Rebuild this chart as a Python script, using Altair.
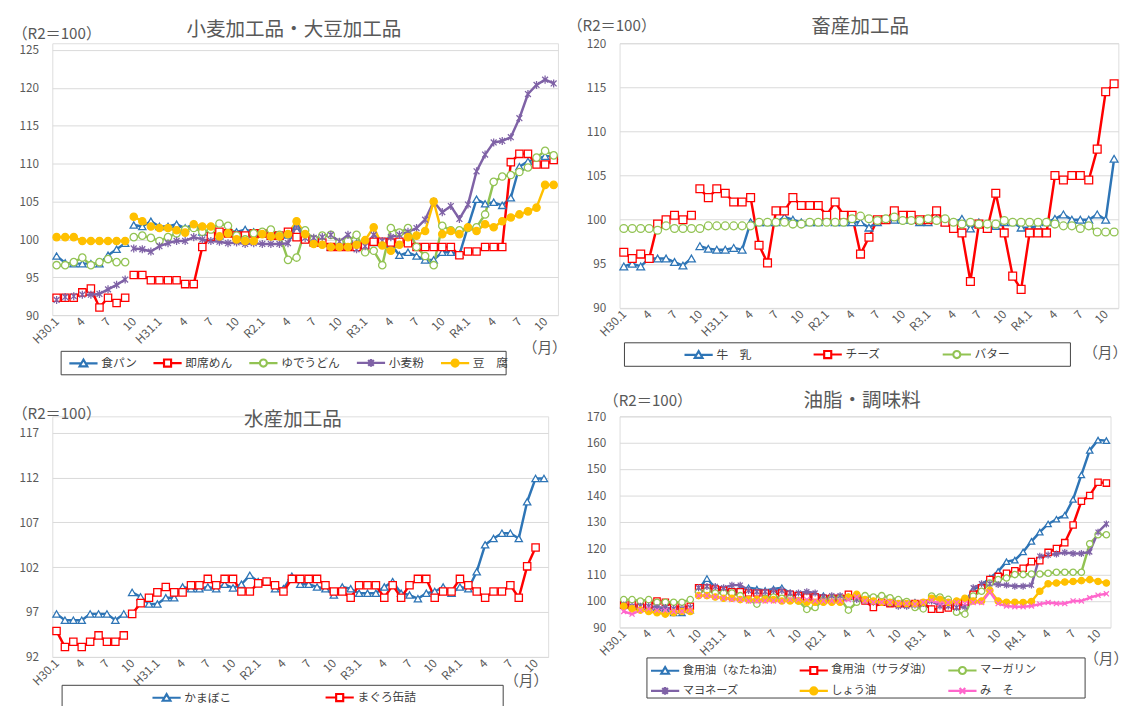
import altair as alt
import pandas as pd

FONT = "Noto Sans CJK JP"
AXIS_C = "#595959"
GRID_C = "#d9d9d9"
FRAME_C = "#404040"

# ---------------- x axis (monthly, H30.1 .. R4.11) ----------------
TICK_POS = list(range(0, 58, 3))
TICK_LABELS = ["H30.1", "4", "7", "10", "H31.1", "4", "7", "10", "R2.1", "4", "7", "10",
               "R3.1", "4", "7", "10", "R4.1", "4", "7", "10"]
BREAK_AFTER = 8  # series break between H30.9 and H30.10

# ---------------- 小麦加工品・大豆加工品 ----------------
P1_NAMES = ["食パン", "即席めん", "ゆでうどん", "小麦粉", "豆　腐"]
P1_SHOKUPAN = [97.8, 96.9, 96.8, 96.8, 96.8, 96.8, 97.9, 98.7, 99.5,
               101.9, 101.7, 102.4, 101.7, 101.7, 102.0, 101.5, 102.0, 101.0, 101.0,
               100.5, 101.2, 101.0, 101.3, 101.0, 100.8, 100.5, 100.5, 100.6, 101.8,
               100.0, 99.7, 99.5, 99.0, 99.0, 99.3, 99.5, 99.3, 99.6, 99.5,
               99.4, 97.9, 98.3, 97.8, 97.3, 97.3, 98.3, 98.3, 98.0, 101.7,
               105.3, 104.7, 104.9, 104.5, 105.5, 109.6, 110.3, 110.6, 111.0, 111.0]
P1_SOKUSEKI = [92.3, 92.3, 92.3, 93.0, 93.5, 91.0, 92.3, 91.6, 92.3,
               95.3, 95.3, 94.6, 94.6, 94.6, 94.6, 94.1, 94.1, 99.0, 100.4,
               101.0, 100.8, 100.5, 100.5, 100.8, 100.8, 100.5, 100.5, 101.0, 100.3,
               100.0, 99.6, 99.6, 99.0, 99.0, 99.0, 99.0, 99.2, 99.7, 99.7,
               99.6, 99.7, 99.5, 99.0, 99.0, 99.0, 99.0, 99.0, 97.9, 98.4,
               98.4, 99.0, 99.0, 99.0, 110.2, 111.3, 111.3, 109.9, 109.9, 110.5]
P1_UDON = [96.6, 96.6, 97.0, 97.6, 96.6, 97.0, 97.4, 97.0, 97.0,
           100.3, 100.5, 100.2, 99.8, 100.3, 100.8, 101.3, 101.5, 101.0, 101.3,
           102.1, 101.8, 100.5, 100.0, 100.8, 101.0, 101.3, 100.6, 97.3, 97.6,
           101.2, 100.0, 100.5, 100.6, 99.6, 99.8, 100.6, 98.3, 98.5, 96.6,
           101.5, 100.9, 101.5, 99.0, 97.8, 96.6, 101.8, 101.2, 101.2, 101.5,
           101.6, 103.3, 107.6, 108.3, 108.5, 108.9, 109.5, 110.8, 111.7, 111.1]
P1_KOMUGIKO = [92.0, 92.4, 92.5, 92.7, 92.7, 92.8, 93.4, 94.0, 94.7,
               98.8, 98.7, 98.4, 99.1, 99.5, 99.8, 99.8, 100.3, 100.0, 99.8,
               99.7, 99.5, 99.6, 99.4, 99.5, 99.4, 99.4, 99.4, 99.5, 101.8,
               100.2, 100.2, 100.3, 100.6, 99.7, 100.6, 98.7, 99.1, 100.6, 99.8,
               100.3, 100.6, 101.0, 101.5, 102.6, 105.0, 103.6, 104.4, 102.7, 104.6,
               109.0, 111.2, 112.8, 113.0, 113.5, 116.0, 119.2, 120.4, 121.1, 120.6]
P1_TOFU = [100.3, 100.3, 100.3, 99.8, 99.8, 99.8, 99.8, 99.8, 99.8,
           103.0, 102.4, 101.7, 101.5, 101.5, 101.2, 100.9, 102.0, 101.7, 101.7,
           100.4, 100.8, 100.0, 99.8, 99.8, 100.7, 100.4, 100.4, 100.7, 102.4,
           100.7, 99.4, 99.3, 99.0, 99.0, 99.0, 99.3, 99.9, 101.6, 99.2,
           98.5, 99.3, 100.3, 100.5, 101.1, 105.0, 100.7, 101.1, 100.7, 101.6,
           101.1, 102.0, 101.6, 102.4, 102.9, 103.3, 103.7, 104.2, 107.2, 107.2]

# ---------------- 畜産加工品 ----------------
P2_NAMES = ["牛　乳", "チーズ", "バター"]
P2_MILK = [94.7, 95.0, 94.7, 95.6, 95.6, 95.6, 95.2, 94.8, 95.6,
           97.0, 96.7, 96.6, 96.6, 96.8, 96.6, 99.7, 99.7, 99.7, 99.7,
           100.3, 100.0, 99.7, 99.7, 99.7, 100.0, 99.7, 99.7, 99.7, 99.7,
           99.1, 99.7, 100.0, 100.0, 100.0, 100.0, 99.7, 99.7, 100.1, 99.7,
           99.7, 100.1, 99.0, 99.7, 99.0, 99.3, 99.7, 99.7, 99.1, 99.1,
           99.3, 99.7, 100.1, 100.6, 100.0, 100.0, 100.0, 100.6, 100.0, 106.9]
P2_CHEESE = [96.3, 95.6, 96.1, 95.6, 99.5, 100.0, 100.5, 100.0, 100.5,
             103.5, 102.5, 103.5, 103.0, 102.0, 102.0, 102.5, 97.1, 95.1, 101.0,
             101.0, 102.5, 101.6, 101.6, 101.6, 100.5, 102.0, 100.5, 100.5, 96.1,
             98.0, 100.0, 100.0, 101.0, 100.5, 100.5, 100.0, 100.0, 101.0, 99.7,
             99.0, 98.5, 93.0, 99.5, 99.0, 103.0, 98.5, 93.6, 92.1, 98.5,
             98.5, 98.5, 105.0, 104.5, 105.0, 105.0, 104.5, 108.0, 114.5, 115.4]
P2_BUTTER = [99.0, 99.0, 99.0, 99.0, 98.8, 99.3, 99.0, 99.0, 99.0,
             99.0, 99.3, 99.3, 99.3, 99.3, 99.3, 99.3, 99.7, 99.7, 99.7,
             99.7, 99.5, 99.5, 99.7, 99.7, 99.7, 99.7, 99.7, 100.1, 100.4,
             100.1, 99.9, 100.1, 100.3, 99.9, 99.9, 99.9, 100.1, 99.9, 100.1,
             99.7, 99.5, 99.7, 99.5, 99.5, 99.5, 99.9, 99.7, 99.7, 99.7,
             99.7, 99.7, 99.5, 99.3, 99.3, 99.0, 99.3, 98.6, 98.6, 98.6]

# ---------------- 水産加工品 ----------------
P3_NAMES = ["かまぼこ", "まぐろ缶詰"]
P3_KAMABOKO = [96.8, 96.1, 96.1, 96.1, 96.8, 96.8, 96.8, 96.1, 96.8,
               99.2, 98.7, 97.9, 97.9, 98.6, 98.6, 99.8, 99.6, 99.6, 99.8,
               99.6, 100.1, 99.7, 100.1, 101.1, 100.4, 100.4, 99.6, 99.6, 101.0,
               100.1, 100.1, 99.8, 99.6, 98.9, 99.8, 99.6, 99.1, 99.1, 99.1,
               99.8, 100.4, 99.1, 98.9, 98.5, 99.1, 99.3, 99.8, 99.1, 99.8,
               99.6, 101.5, 104.5, 105.2, 105.8, 105.8, 105.2, 109.3, 111.9, 111.9]
P3_MAGURO = [94.9, 93.1, 93.7, 93.1, 93.7, 94.4, 93.7, 93.7, 94.4,
             96.8, 98.0, 98.6, 99.2, 99.8, 99.2, 99.2, 100.0, 100.0, 100.7,
             100.0, 100.7, 100.7, 99.3, 99.3, 100.2, 100.4, 100.0, 99.3, 100.7,
             100.7, 100.7, 100.7, 100.0, 99.3, 99.3, 98.6, 100.0, 100.0, 100.0,
             98.6, 100.0, 98.6, 100.0, 100.7, 100.7, 98.6, 99.3, 99.3, 100.7,
             100.0, 99.3, 98.6, 99.3, 99.3, 100.0, 98.6, 102.1, 104.2, None]

# ---------------- 油脂・調味料 ----------------
P4_NAMES = ["食用油（なたね油）", "食用油（サラダ油）", "マーガリン", "マヨネーズ", "しょう油", "み　そ"]
P4_NATANE = [98.5, 98.0, 98.0, 98.0, 97.5, 97.0, 95.5, 95.5, 96.5,
             104.5, 108.5, 105.0, 104.5, 104.0, 104.5, 105.0, 104.5, 104.0, 104.5,
             105.0, 103.0, 102.5, 102.5, 102.0, 102.0, 101.5, 101.5, 101.5, 101.0,
             100.5, 100.0, 99.5, 99.0, 99.0, 99.5, 99.5, 99.0, 96.9, 96.9,
             97.8, 98.0, 99.4, 104.3, 106.0, 108.7, 111.2, 114.9, 115.5, 118.6,
             122.6, 126.1, 129.2, 131.0, 132.5, 138.5, 147.8, 157.1, 161.0, 160.8]
P4_SALAD = [98.5, 98.5, 98.0, 98.5, 100.0, 99.5, 98.0, 97.5, 98.0,
            105.0, 105.0, 104.5, 104.0, 103.5, 103.5, 103.0, 103.0, 103.0, 102.5,
            103.0, 102.5, 102.0, 101.5, 101.5, 101.0, 101.0, 101.0, 102.5, 101.0,
            100.0, 97.5, 99.5, 99.0, 99.0, 99.0, 99.0, 99.0, 96.9, 96.9,
            97.3, 98.0, 99.5, 102.5, 105.0, 108.1, 109.3, 110.5, 111.4, 112.4,
            114.9, 115.3, 118.4, 119.9, 122.1, 128.8, 137.8, 140.0, 145.0, 144.7]
P4_MARGARINE = [100.5, 100.5, 100.0, 100.5, 99.5, 99.5, 99.5, 99.5, 100.5,
                103.5, 104.0, 103.0, 103.0, 103.0, 102.0, 100.5, 98.8, 101.0, 101.5,
                101.0, 101.0, 100.0, 96.8, 97.5, 100.5, 101.0, 101.0, 96.5, 99.5,
                102.0, 101.5, 102.0, 101.2, 100.5, 99.8, 97.5, 97.0, 101.9, 101.5,
                100.6, 95.7, 95.0, 101.9, 103.7, 106.8, 108.1, 108.7, 110.0, 110.0,
                110.2, 110.2, 110.5, 110.9, 110.9, 110.9, 110.9, 121.7, 125.1, 125.1]
P4_MAYO = [98.5, 98.0, 98.0, 98.0, 97.5, 97.5, 97.0, 97.0, 97.5,
           105.0, 105.5, 105.5, 105.0, 106.0, 106.0, 104.0, 103.5, 103.5, 104.0,
           104.0, 103.0, 103.0, 103.5, 103.0, 101.5, 102.0, 102.0, 101.5, 100.5,
           100.0, 99.5, 99.5, 99.0, 98.0, 98.0, 98.5, 99.0, 100.0, 98.1,
           98.1, 97.5, 97.8, 105.0, 106.5, 106.5, 106.2, 106.0, 105.6, 105.6,
           106.0, 117.0, 117.4, 117.8, 118.4, 118.0, 118.0, 118.6, 126.1, 129.2]
P4_SHOYU = [98.0, 97.0, 96.5, 96.0, 95.5, 95.0, 95.5, 96.0, 96.0,
            102.0, 102.0, 101.5, 101.0, 101.0, 100.5, 100.5, 100.5, 100.5, 100.5,
            100.0, 100.0, 100.0, 99.5, 99.5, 99.5, 99.5, 99.5, 101.5, 102.5,
            100.5, 100.0, 99.5, 99.5, 99.0, 99.0, 99.0, 99.5, 101.0, 100.6,
            99.5, 100.0, 101.0, 100.0, 100.0, 104.0, 100.0, 99.5, 99.5, 99.4,
            99.8, 103.7, 106.5, 106.8, 107.2, 107.4, 107.7, 108.1, 107.4, 106.8]
P4_MISO = [96.0, 95.0, 96.5, 97.0, 96.5, 96.5, 96.0, 96.0, 96.5,
           102.0, 102.0, 101.5, 101.0, 100.5, 100.5, 100.0, 100.0, 100.0, 100.0,
           100.0, 100.5, 100.5, 100.5, 100.0, 100.0, 100.0, 100.0, 100.5, 101.5,
           100.0, 99.5, 99.5, 99.5, 99.0, 99.0, 98.8, 99.5, 100.2, 99.0,
           99.4, 99.4, 99.0, 99.4, 99.4, 103.5, 99.0, 98.1, 97.8, 97.8,
           98.1, 98.8, 99.4, 99.0, 99.0, 100.0, 100.0, 101.2, 102.2, 102.7]

# ---------------- styles ----------------
BLUE, RED, GREEN, PURPLE, YELLOW, PINK = "#2E75B6", "#FF0000", "#92C353", "#7F62A6", "#FFC000", "#FF66CC"
WHITE = "#ffffff"
M_TRI, M_SQ, M_CIR = "triangle-up", "square", "circle"
M_AST = "M-0.8,-0.8L0.8,0.8M-0.8,0.8L0.8,-0.8M0,-1.1L0,1.1"
M_X = "M-0.8,-0.8L0.8,0.8M-0.8,0.8L0.8,-0.8"
L_TRI = "M-1,0L2.4,0M3.6,0L7,0M3,-1.05L4.1,0.85L1.9,0.85Z"
L_SQ = "M-1,0L2,0M4,0L7,0M2,-1L4,-1L4,1L2,1Z"
L_CIR = "M-1,0L2,0M4,0L7,0M2,0A1,1,0,1,1,4,0A1,1,0,1,1,2,0Z"
L_AST = "M-1,0L7,0M2.2,-0.8L3.8,0.8M2.2,0.8L3.8,-0.8M3,-1.1L3,1.1"
L_X = "M-1,0L7,0M2.2,-0.8L3.8,0.8M2.2,0.8L3.8,-0.8"

LABEL_EXPR = "[" + ",".join("'%s'" % t for t in TICK_LABELS) + "][round(datum.value / 3)]"


def build_df(names, series):
    rows = []
    for name, vals in zip(names, series):
        for i, v in enumerate(vals):
            if v is None:
                continue
            rows.append({"m": i, "v": v, "s": name, "s2": name,
                         "seg": "a" if i <= BREAK_AFTER else "b"})
    return pd.DataFrame(rows)


def make_panel(names, series, colors, fills, shapes, lshapes, cfg):
    df = build_df(names, series)
    base = alt.Chart(df)
    xenc = alt.X("m:Q", scale=alt.Scale(domain=[-0.5, 58.5], nice=False, zero=False),
                 axis=alt.Axis(values=TICK_POS, labelExpr=LABEL_EXPR, labelAngle=-45,
                               labelAlign="right", labelBaseline="middle", labelPadding=4,
                               labelFontSize=12, labelColor=AXIS_C, labelOverlap=False,
                               labelFlush=False, grid=False, ticks=False, domain=False,
                               title="（月）", titleX=cfg["mx"], titleY=cfg["my"],
                               titleAlign="center", titleBaseline="middle", titleAngle=0,
                               titleFontSize=15, titleFontWeight="normal", titleColor=AXIS_C))
    yenc = alt.Y("v:Q", scale=alt.Scale(domain=cfg["ydom"], nice=False, zero=False),
                 axis=alt.Axis(values=cfg["yticks"], grid=True, gridColor=GRID_C, gridWidth=1,
                               ticks=False, domain=False, labelFontSize=12, labelColor=AXIS_C,
                               labelPadding=14, labelOverlap=False, title="（R2＝100）",
                               titleAngle=0, titleX=cfg["rx"], titleY=cfg["ry"],
                               titleAlign="center", titleBaseline="middle", titleFontSize=15.5,
                               titleFontWeight="normal", titleColor=AXIS_C))
    line = base.mark_line(strokeWidth=2.5, strokeJoin="round", strokeCap="round").encode(
        x=xenc, y=yenc,
        color=alt.Color("s:N", scale=alt.Scale(domain=names, range=colors), legend=None),
        detail="seg:N")
    pts = base.mark_point(filled=True, size=cfg["msize"], strokeWidth=1.3, opacity=1).encode(
        x=xenc, y=yenc,
        stroke=alt.Stroke("s:N", scale=alt.Scale(domain=names, range=colors), legend=None),
        fill=alt.Fill("s:N", scale=alt.Scale(domain=names, range=fills), legend=None),
        shape=alt.Shape("s:N", scale=alt.Scale(domain=names, range=shapes), legend=None))
    leg = alt.Legend(orient="none", legendX=cfg["lx"], legendY=cfg["ly"], direction="horizontal",
                     columns=cfg["cols"], title=None, symbolSize=52, symbolStrokeWidth=2.2,
                     symbolOpacity=1, labelFontSize=cfg["lfs"], labelColor="#404040",
                     labelFont=FONT, labelOffset=23, columnPadding=cfg["cpad"], rowPadding=4,
                     padding=0, gridAlign="each", labelLimit=300)
    legl = base.mark_point(filled=True, opacity=0).encode(
        x=xenc, y=yenc,
        stroke=alt.Stroke("s2:N", scale=alt.Scale(domain=names, range=colors), legend=leg),
        fill=alt.Fill("s2:N", scale=alt.Scale(domain=names, range=fills), legend=leg),
        shape=alt.Shape("s2:N", scale=alt.Scale(domain=names, range=lshapes), legend=leg))
    fx1, fx2, fy1, fy2 = cfg["frame"]
    frame = alt.Chart(pd.DataFrame({"k": [0]})).mark_rect(
        fillOpacity=0, stroke=FRAME_C, strokeWidth=1).encode(
        x=alt.value(fx1), x2=alt.value(fx2), y=alt.value(fy1), y2=alt.value(fy2))
    return alt.layer(line, pts, legl, frame).resolve_scale(
        color="independent", stroke="independent", fill="independent", shape="independent"
    ).properties(
        width=cfg["w"], height=cfg["h"],
        title=alt.TitleParams(text=cfg["title"], fontSize=20, fontWeight="normal", color=AXIS_C,
                              font=FONT, anchor="middle", frame="group", offset=0,
                              baseline="middle", dx=cfg["tdx"], dy=cfg["tdy"]))


tl = make_panel(P1_NAMES, [P1_SHOKUPAN, P1_SOKUSEKI, P1_UDON, P1_KOMUGIKO, P1_TOFU],
                [BLUE, RED, GREEN, PURPLE, YELLOW], [WHITE, WHITE, WHITE, WHITE, YELLOW],
                [M_TRI, M_SQ, M_CIR, M_AST, M_CIR], [L_TRI, L_SQ, L_CIR, L_AST, L_CIR],
                dict(w=517, h=278, ydom=[90, 125.904], yticks=[90, 95, 100, 105, 110, 115, 120, 125],
                     title="小麦加工品・大豆加工品", tdx=-11.5, tdy=24, rx=4, ry=-10.3, mx=503, my=33,
                     lx=15, ly=320.5, cols=5, cpad=11, lfs=12, frame=(9, 464, 315, 339), msize=56))
tr = make_panel(P2_NAMES, [P2_MILK, P2_CHEESE, P2_BUTTER],
                [BLUE, RED, GREEN], [WHITE, WHITE, WHITE],
                [M_TRI, M_SQ, M_CIR], [L_TRI, L_SQ, L_CIR],
                dict(w=510, h=270.6, ydom=[90, 120], yticks=[90, 95, 100, 105, 110, 115, 120],
                     title="畜産加工品", tdx=-9, tdy=28.7, rx=-8.5, ry=-18.4, mx=496, my=45.7,
                     lx=64, ly=311.8, cols=3, cpad=57, lfs=12, frame=(5, 461, 306.3, 330.3), msize=64))
bl = make_panel(P3_NAMES, [P3_KAMABOKO, P3_MAGURO],
                [BLUE, RED], [WHITE, WHITE], [M_TRI, M_SQ], [L_TRI, L_SQ],
                dict(w=507, h=246, ydom=[92, 118.821], yticks=[92, 97, 102, 107, 112, 117],
                     title="水産加工品", tdx=-7.5, tdy=33.3, rx=4, ry=-2.3, mx=484, my=24,
                     lx=100, ly=281, cols=2, cpad=90, lfs=12, frame=(10, 461, 275, 312), msize=56))
br = make_panel(P4_NAMES, [P4_NATANE, P4_SALAD, P4_MARGARINE, P4_MAYO, P4_SHOYU, P4_MISO],
                [BLUE, RED, GREEN, PURPLE, YELLOW, PINK],
                [WHITE, WHITE, WHITE, WHITE, YELLOW, WHITE],
                [M_TRI, M_SQ, M_CIR, M_AST, M_CIR, M_X], [L_TRI, L_SQ, L_CIR, L_AST, L_CIR, L_X],
                dict(w=502, h=215.7, ydom=[90, 170], yticks=[90, 100, 110, 120, 130, 140, 150, 160, 170],
                     title="油脂・調味料", tdx=-3, tdy=27.4, rx=28.5, ry=-16, mx=497, my=32.3,
                     lx=30, ly=254, cols=3, cpad=11, lfs=11.5, frame=(28, 476, 247, 288), msize=42))

RES = dict(x="independent", y="independent", color="independent", stroke="independent",
           fill="independent", shape="independent")

chart = alt.concat(tl, tr, bl, br, columns=2, spacing={"row": 103.5, "column": 63},
                   bounds="flush").resolve_scale(**RES).properties(
    padding={"left": 11.5, "top": 8, "right": 0, "bottom": 0}
).configure_view(stroke=None).configure(font=FONT)

chart.save("out.html", embed_options={"renderer": "svg", "actions": False})
